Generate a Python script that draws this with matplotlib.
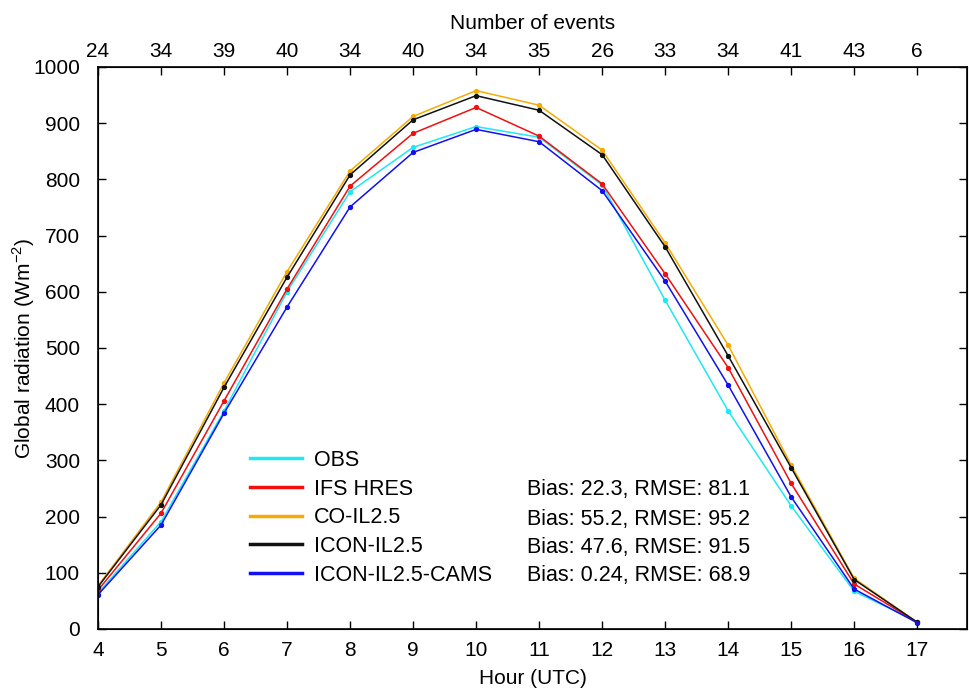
import matplotlib
matplotlib.use('Agg')
import matplotlib.pyplot as plt

plt.rcParams['font.family'] = ['Liberation Sans', 'DejaVu Sans']
plt.rcParams['font.size'] = 15

hours = [4, 5, 6, 7, 8, 9, 10, 11, 12, 13, 14, 15, 16, 17]
events = [24, 34, 39, 40, 34, 40, 34, 35, 26, 33, 34, 41, 43, 6]

obs = [64, 191, 388, 600, 778, 857, 894, 875, 790, 585, 388, 219, 67, 13]
ifs_hres = [69, 206, 406, 605, 788, 882, 928, 877, 792, 632, 465, 259, 80, 12]
co_il = [77, 226, 438, 636, 815, 912, 958, 932, 852, 687, 505, 292, 90, 12]
icon_il = [75, 221, 430, 626, 808, 906, 949, 923, 844, 680, 486, 287, 88, 12]
icon_cams = [61, 185, 384, 573, 751, 848, 889, 867, 780, 619, 434, 235, 71, 11]

names = ['OBS', 'IFS HRES', 'CO-IL2.5', 'ICON-IL2.5', 'ICON-IL2.5-CAMS']
colors = ['#1ee8f2', '#f01010', '#f5ac00', '#111111', '#1010f0']
stats = ['', 'Bias: 22.3, RMSE: 81.1', 'Bias: 55.2, RMSE: 95.2',
         'Bias: 47.6, RMSE: 91.5', 'Bias: 0.24, RMSE: 68.9']

fig = plt.figure(figsize=(9.7, 6.89), dpi=100)
ax = fig.add_axes([98 / 970, 1 - 629 / 689, (967 - 98) / 970, (629 - 67) / 689])

series = [obs, ifs_hres, co_il, icon_il, icon_cams]
for vals, name, col in zip(series, names, colors):
    ax.plot(hours, vals, color=col, lw=1.1, marker='o', ms=2.8, mec=col, label=name)

ax.set_xlim(4, 17.79)
ax.set_ylim(0, 1000)
ax.set_xticks(hours)
ax.set_yticks(range(0, 1001, 100))
ax.tick_params(direction='in', length=6, width=1, top=False, right=True, labelsize=15)
ax.tick_params(axis='x', pad=9)
ax.tick_params(axis='y', pad=13)
for sp in ax.spines.values():
    sp.set_linewidth(1.2)

ax.set_xlabel('Hour (UTC)', fontsize=15, labelpad=6)
ax.set_ylabel('Global radiation (Wm$^{\\mathregular{-2}}$)', fontsize=15, labelpad=-2.5)

top = ax.twiny()
top.set_xlim(ax.get_xlim())
top.set_xticks(hours)
top.set_xticklabels([str(e) for e in events])
top.tick_params(direction='in', length=6, width=1, labelsize=15, pad=4)
top.set_xlabel('Number of events', fontsize=15, labelpad=10)

# legend without frame, thicker handles
handles = [plt.Line2D([], [], color=c, lw=2.5) for c in colors]
ax.legend(handles, names, loc='upper left', frameon=False,
          bbox_to_anchor=((250 - 98) / 869, (629 - 450) / 562),
          borderaxespad=0, borderpad=0, handlelength=2.4,
          handletextpad=0.58, labelspacing=0.355, fontsize=15.5)

row_y = [460, 490, 519, 547, 575]
for s, y in zip(stats, row_y):
    if s:
        ax.text((527 - 98) / 869, (629 - y) / 562, s, transform=ax.transAxes,
                va='center', ha='left', fontsize=15.5)

fig.savefig('out.png', dpi=100)
